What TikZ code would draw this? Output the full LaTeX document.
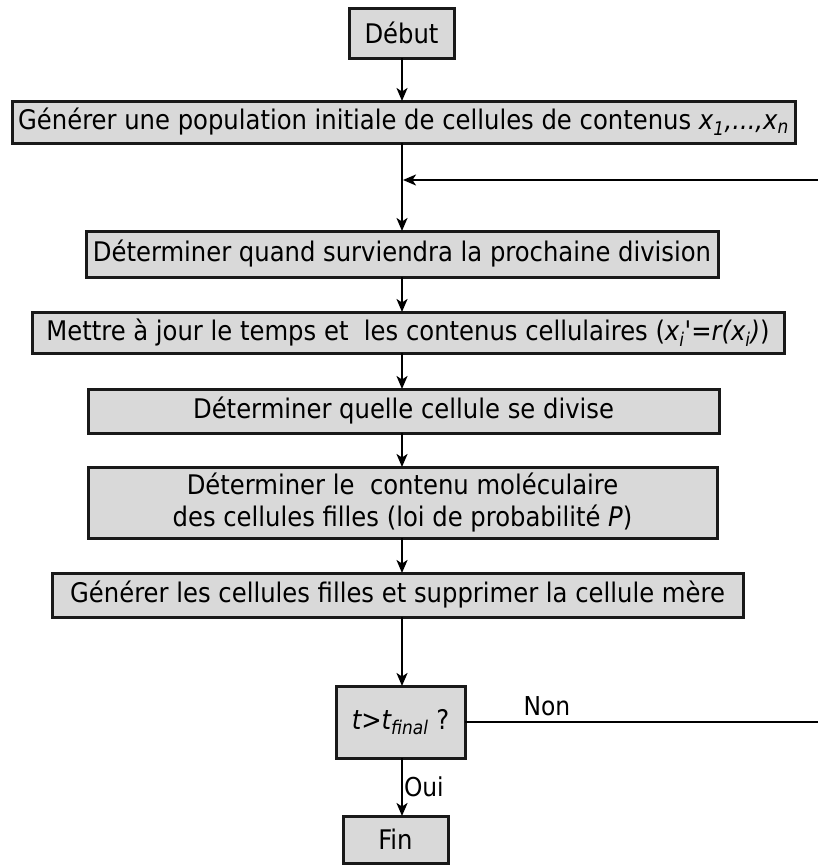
\documentclass[tikz,border=0pt]{standalone}
\usepackage{fontspec}
\setmainfont{DejaVu Sans Condensed}
\usetikzlibrary{arrows.meta}

\begin{document}
\begin{tikzpicture}
    [x=1pt, y=-1pt,
    %Option for nice arrows
    >={Stealth[length=13pt,width=11pt,inset=3.5pt]}, %
    inner sep=0pt, outer sep=0pt,%
    stepbox/.style={draw=black!90,fill=black!15,line width=3pt,
        minimum width=#1,font=\fontsize{27}{32}\selectfont},
    flow/.style={line width=2pt,->},
    lbl/.style={font=\fontsize{26}{31}\selectfont}];

    \useasboundingbox (0,0) rectangle (818,865);

    % Boxes
    \node[stepbox=105pt, minimum height=50pt] (debut) at (401.5,33) {Début};
    \node[stepbox=783pt, minimum height=42pt] (init) at (403.5,122)
        {Générer une population initiale de cellules de contenus \textit{x\textsubscript{1},...,x\textsubscript{n}}};
    \node[stepbox=632pt, minimum height=46pt] (quand) at (402,254)
        {Déterminer quand surviendra la prochaine division};
    \node[stepbox=752pt, minimum height=41pt] (maj) at (408,332.5)
        {Mettre à jour le temps et\ \ les contenus cellulaires (\textit{x\textsubscript{i}\textquotesingle}=\textit{r(x\textsubscript{i})})};
    \node[stepbox=631pt, minimum height=44pt] (quelle) at (403.5,411)
        {Déterminer quelle cellule se divise};
    \node[stepbox=629pt, minimum height=71pt, align=center] (contenu) at (402.5,502.5)
        {Déterminer le\ \ contenu moléculaire\\des cellules filles (loi de probabilité \textit{P})};
    \node[stepbox=691pt, minimum height=44pt] (filles) at (397.5,595)
        {Générer les cellules filles et supprimer la cellule mère};
    \node[stepbox=129pt, minimum height=72pt] (test) at (400.5,722)
        {\textit{t>t\textsubscript{final}} ?};
    \node[stepbox=105pt, minimum height=47pt] (fin) at (395.5,839.5) {Fin};

    % Loop
    \coordinate (join) at (403,180);
    \coordinate (back) at (821,722);
    \coordinate (top) at (821,180);

    % Arrows
    \draw[flow] (debut.south -| 402,0) -- (init.north -| 402,0);
    \draw[flow] (init.south -| 402,0) -- (quand.north -| 402,0);
    \draw[flow] (quand.south -| 402,0) -- (maj.north -| 402,0);
    \draw[flow] (maj.south -| 402,0) -- (quelle.north -| 402,0);
    \draw[flow] (quelle.south -| 402,0) -- (contenu.north -| 402,0);
    \draw[flow] (contenu.south -| 402,0) -- (filles.north -| 402,0);
    \draw[flow] (filles.south -| 402,0) -- (test.north -| 402,0);
    \draw[flow] (test.south -| 402,0) -- node[lbl,right=2pt] {Oui} (fin.north -| 402,0);
    \draw[line width=2pt] (test.east) -- node[lbl,above=6pt,pos=0.23] {Non} (back) -- (top);
    \draw[flow] (top) -- (join);

\end{tikzpicture}
\end{document}
